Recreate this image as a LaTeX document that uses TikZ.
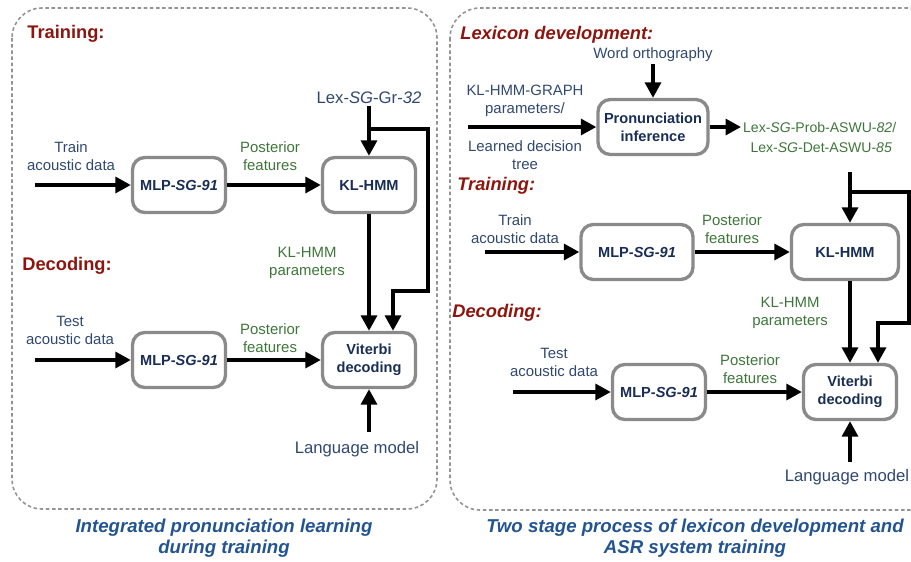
\documentclass[tikz,border=0pt]{standalone}
\usepackage{fontspec}
\setmainfont{Liberation Sans}
\definecolor{HeadRed}{RGB}{140,22,14}
\definecolor{LabelBlue}{RGB}{48,72,112}
\definecolor{FeatGreen}{RGB}{62,118,58}
\definecolor{BoxNavy}{RGB}{24,46,86}
\definecolor{CapBlue}{RGB}{34,84,146}
\definecolor{EdgeGray}{RGB}{138,138,138}
\usepackage{tikz}
\usetikzlibrary{arrows.meta, positioning}

\tikzset{
  blk/.style={draw=EdgeGray, line width=1.9pt, fill=white, rounded corners=7pt,
              minimum width=1.86cm, minimum height=1.1cm, align=center, inner sep=2pt,
              text=BoxNavy, font=\fontsize{8.3}{10.2}\selectfont\bfseries},
  lbl/.style={align=center, text=LabelBlue, inner sep=1pt, font=\fontsize{8.5}{10.2}\selectfont},
  feat/.style={lbl, text=FeatGreen},
  head/.style={anchor=west, inner sep=0pt, text=HeadRed, font=\fontsize{10.4}{12}\selectfont\bfseries},
  captxt/.style={align=center, text=CapBlue, font=\fontsize{10.6}{12.2}\selectfont\bfseries\itshape},
  arr/.style={line width=2.1pt, -{Triangle[length=8.8pt,width=9pt]}},
  panel/.style={draw=gray!85, dash pattern=on 2pt off 1.5pt, line width=0.9pt, rounded corners=0.6cm}
}

\begin{document}
\begin{tikzpicture}[x=0.02cm, y=-0.02cm]
  \useasboundingbox (0,0) rectangle (911,561);
  \draw[panel] (12,8) rectangle (437,509);
  \draw[panel] (450,8) rectangle (940,510);

  % integrated learning
  \node[head] (hTrainA) at (27,34) {Training:};
  \node[head] (hDecA) at (22,266) {Decoding:};
  \node[blk] (mlpA) at (179,185) {MLP-\textit{SG-91}};
  \node[blk] (klA) at (369,185) {KL-HMM};
  \node[blk] (mlpB) at (179,360) {MLP-\textit{SG-91}};
  \node[blk] (vitA) at (369,360) {Viterbi\\decoding};
  \node[lbl] (trainA) at (71,156) {Train\\acoustic data};
  \node[lbl] (testA) at (70,330) {Test\\acoustic data};
  \node[feat] (postA) at (270,156) {Posterior\\features};
  \node[feat] (postB) at (270,338) {Posterior\\features};
  \node[feat] (parA) at (307,263) {KL-HMM\\parameters};
  \node[lbl, font=\fontsize{9.5}{11}\selectfont] (lexA) at (369,98) {Lex-\textit{SG}-Gr-\textit{32}};
  \node[lbl, font=\fontsize{9.5}{11}\selectfont] (lmA) at (357,449) {Language model};
  \coordinate (inA) at (35,185);
  \coordinate (inB) at (35,360);
  \coordinate (brA) at (369,129);
  \coordinate (cnA) at (428,291);
  \coordinate (lmtopA) at (369,432);

  \draw[arr] (inA) -- (mlpA);
  \draw[arr] (mlpA) -- (klA);
  \draw[arr] (inB) -- (mlpB);
  \draw[arr] (mlpB) -- (vitA);
  \draw[arr] (lexA.south) -- (klA.north);
  \draw[arr] (brA) -| (cnA) -| ([xshift=0.48cm]vitA.north);
  \draw[arr] (klA) -- (vitA);
  \draw[arr] (lmtopA) -- (vitA);

  % two stage process
  \node[head, font=\fontsize{10.4}{12}\selectfont\bfseries\itshape] (hLex) at (460,35) {Lexicon development:};
  \node[head, font=\fontsize{10.4}{12}\selectfont\bfseries\itshape] (hTrainB) at (457,186) {Training:};
  \node[head, font=\fontsize{10.4}{12}\selectfont\bfseries\itshape] (hDecB) at (452,313) {Decoding:};
  \node[blk, minimum width=2.2cm] (pron) at (653,127) {Pronunciation\\inference};
  \node[blk, minimum width=2.24cm] (mlpC) at (637,252) {MLP-\textit{SG-91}};
  \node[blk, minimum width=2.14cm] (klB) at (845,252) {KL-HMM};
  \node[blk] (mlpD) at (659,392) {MLP-\textit{SG-91}};
  \node[blk] (vitB) at (850,392) {Viterbi\\decoding};
  \node[lbl] (word) at (653,55) {Word orthography};
  \node[lbl] (graph) at (525,101) {KL-HMM-GRAPH\\parameters/};
  \node[lbl] (tree) at (525,155) {Learned decision\\tree};
  \node[feat, anchor=west, font=\fontsize{8}{10}\selectfont] (lexB) at (741,127) {Lex-\textit{SG}-Prob-ASWU-\textit{82}/};
  \node[feat, anchor=east, font=\fontsize{8}{10}\selectfont] (lexC) at (894,148) {Lex-\textit{SG}-Det-ASWU-\textit{85}};
  \node[lbl] (trainB) at (515,229) {Train\\acoustic data};
  \node[lbl] (testB) at (554,362) {Test\\acoustic data};
  \node[feat] (postC) at (732,229) {Posterior\\features};
  \node[feat] (postD) at (750,369) {Posterior\\features};
  \node[feat] (parB) at (790,313) {KL-HMM\\parameters};
  \node[lbl, font=\fontsize{9.5}{11}\selectfont] (lmB) at (847,477) {Language model};
  \coordinate (inG) at (468,127);
  \coordinate (inC) at (485,252);
  \coordinate (inD) at (513,392);
  \coordinate (lexbot) at (850,172);
  \coordinate (brB) at (850,192);
  \coordinate (cnB) at (909,323);
  \coordinate (lmtopB) at (850,462);

  \draw[arr] (word.south) -- (pron.north);
  \draw[arr] (inG) -- (pron);
  \draw[arr] (pron) -- (lexB);
  \draw[arr] (lexbot) -- (lexbot |- klB.north);
  \draw[arr] (brB) -| (cnB) -| ([xshift=0.56cm]vitB.north);
  \draw[arr] (inC) -- (mlpC);
  \draw[arr] (mlpC) -- (klB);
  \draw[arr] (inD) -- (mlpD);
  \draw[arr] (mlpD) -- (vitB);
  \draw[arr] (klB.south -| vitB) -- (vitB);
  \draw[arr] (lmtopB) -- (vitB);

  \node[captxt] (capA) at (224,538) {Integrated pronunciation learning\\during training};
  \node[captxt] (capB) at (695,538) {Two stage process of lexicon development and\\ASR system training};
\end{tikzpicture}
\end{document}
